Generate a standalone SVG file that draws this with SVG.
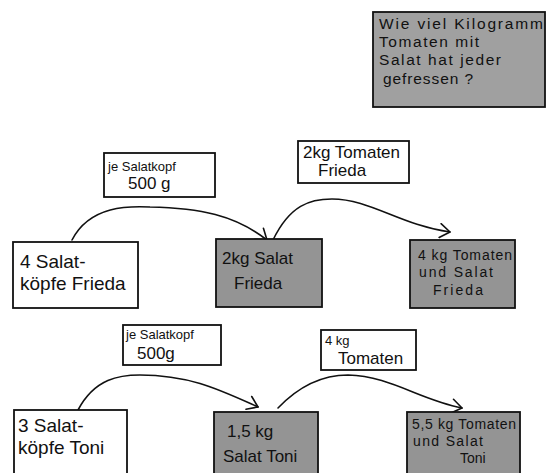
<svg xmlns="http://www.w3.org/2000/svg" width="547" height="473" viewBox="0 0 547 473">
<defs>
<style>
.box{fill:#fff;stroke:#111;stroke-width:1.8}
.gbox{fill:#949494;stroke:#111;stroke-width:1.8}
.q{fill:#a0a0a0;stroke:#111;stroke-width:1.8}
text{font-family:"Liberation Sans",Arial,sans-serif;fill:#111;font-size:17px}
.sm{font-size:13px}
.lg{font-size:19px}
.qt{font-size:15.5px}
.md{font-size:14px}
.conn{fill:none;stroke:#111;stroke-width:1.6;stroke-linecap:round}
</style>
<marker id="ah" viewBox="-12 -8 14 16" refX="0" refY="0" markerWidth="14" markerHeight="16" markerUnits="userSpaceOnUse" orient="auto">
<path d="M-10,-7 L0,0 L-10,7" fill="none" stroke="#111" stroke-width="1.6" stroke-linecap="round" stroke-linejoin="round"/>
</marker>
</defs>
<rect width="547" height="473" fill="#fff"/>

<g id="question">
<rect class="q" x="373" y="12" width="172" height="95"/>
<text class="qt" x="379" y="29" textLength="164">Wie viel Kilogramm</text>
<text class="qt" x="379" y="47" textLength="100">Tomaten mit</text>
<text class="qt" x="379" y="65" textLength="122">Salat hat jeder</text>
<text class="qt" x="383" y="84" textLength="90">gefressen ?</text>
</g>

<g id="connectors">
<path class="conn" d="M72,240 C90,205 130,206 150,207 C200,208 235,215 267,240" marker-end="url(#ah)"/>
<path class="conn" d="M273,240 C290,205 310,199 332,199 C370,199 400,225 450,232" marker-end="url(#ah)"/>
<path class="conn" d="M78,410 C95,378 120,375 140,375 C190,375 220,390 258,407" marker-end="url(#ah)"/>
<path class="conn" d="M278,408 C300,385 325,375 348,375 C390,376 420,400 462,408" marker-end="url(#ah)"/>
</g>

<g id="label-f1">
<rect class="box" x="104" y="153" width="111" height="44"/>
<text class="sm" x="108" y="171">je Salatkopf</text>
<text x="128" y="189">500 g</text>
</g>
<g id="label-f2">
<rect class="box" x="298" y="141" width="111" height="42"/>
<text x="303" y="158">2kg Tomaten</text>
<text x="318" y="176">Frieda</text>
</g>
<g id="node-f1">
<rect class="box" x="13" y="242" width="125" height="66"/>
<text class="lg" x="20" y="268">4 Salat-</text>
<text class="lg" x="20" y="290">köpfe Frieda</text>
</g>
<g id="node-f2">
<rect class="gbox" x="216" y="239" width="106" height="68"/>
<text x="222" y="264">2kg Salat</text>
<text x="234" y="289">Frieda</text>
</g>
<g id="node-f3">
<rect class="gbox" x="410" y="240" width="105" height="68"/>
<text class="md" x="418" y="260" textLength="94">4 kg Tomaten</text>
<text class="md" x="419" y="277" textLength="74">und Salat</text>
<text class="md" x="433" y="295" textLength="50">Frieda</text>
</g>

<g id="label-t1">
<rect class="box" x="123" y="325" width="98" height="40"/>
<text class="sm" x="126" y="339">je Salatkopf</text>
<text x="137" y="359">500g</text>
</g>
<g id="label-t2">
<rect class="box" x="321" y="330" width="95" height="40"/>
<text class="sm" x="325" y="345">4 kg</text>
<text x="338" y="364">Tomaten</text>
</g>
<g id="node-t1">
<rect class="box" x="14" y="410" width="113" height="70"/>
<text class="lg" x="18" y="432">3 Salat-</text>
<text class="lg" x="18" y="454">köpfe Toni</text>
</g>
<g id="node-t2">
<rect class="gbox" x="214" y="412" width="104" height="70"/>
<text x="227" y="437">1,5 kg</text>
<text x="223" y="462">Salat Toni</text>
</g>
<g id="node-t3">
<rect class="gbox" x="407" y="412" width="113" height="70"/>
<text class="md" x="412" y="429" textLength="104">5,5 kg Tomaten</text>
<text class="md" x="413" y="446" textLength="70">und Salat</text>
<text class="md" x="460" y="463">Toni</text>
</g>
</svg>
